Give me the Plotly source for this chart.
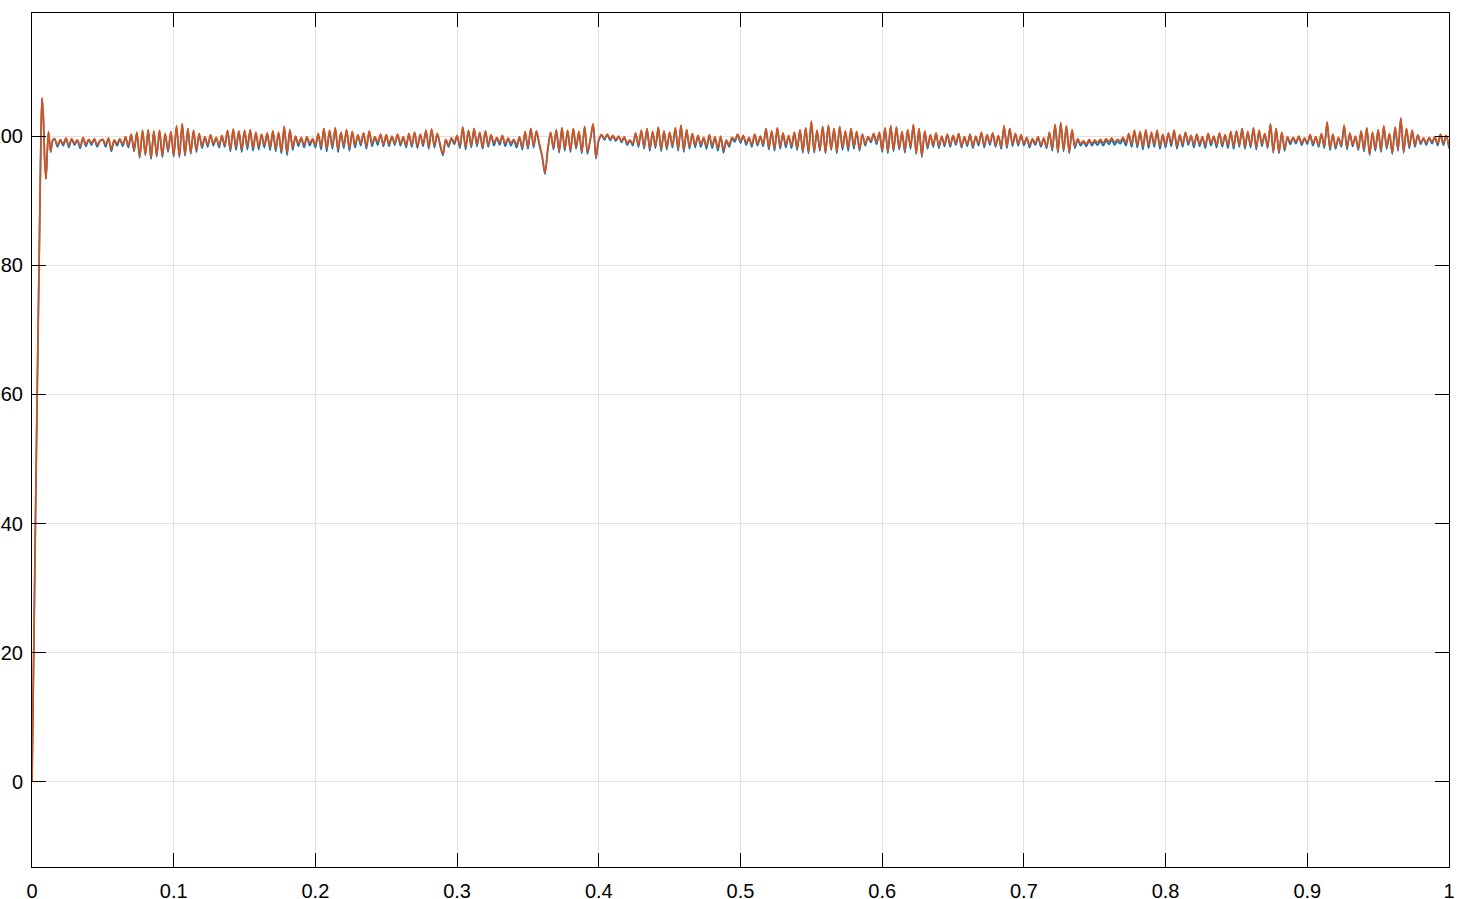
import numpy as np
import plotly.graph_objects as go

# start-up transient (fine time steps)
t_start = [0.0, 0.0018, 0.0035, 0.0053, 0.0064, 0.0071, 0.0080, 0.0090, 0.0099, 0.0116, 0.0132, 0.0146]
orange_start = [0.0, 30.0, 58.0, 85.0, 101.0, 105.9, 103.0, 96.0, 93.3, 100.7, 97.6, 99.4]
blue_start = [0.0, 29.5, 57.5, 84.5, 100.8, 105.8, 103.0, 96.2, 93.4, 100.6, 97.5, 99.2]

# steady part, sampled every 0.002 s starting at t = 0.016
t0_steady = 0.016
dt_steady = 0.002

orange_steady = [
    99.6, 98.6, 99.5, 98.8, 99.7, 98.5, 99.6, 98.9, 99.4, 98.4, 99.8, 98.7, 99.5, 98.9, 99.6, 98.6, 99.3,
    99.5, 98.6, 99.7, 97.9, 99.4, 98.8, 99.6, 98.7, 99.9, 98.5, 100.3, 97.8, 100.6, 96.8, 100.9, 97.2, 101.0, 96.6, 100.8, 97.0, 100.9, 96.9, 100.4, 97.8, 100.7,
    97.0, 101.6, 96.9, 101.9, 97.1, 101.2, 97.4, 100.9, 97.8, 100.4, 98.4, 99.9, 98.6, 100.2, 98.8, 99.8, 98.5, 100.1, 98.6, 100.9, 97.9, 101.1, 98.2, 100.8, 97.9,
    100.9, 98.4, 101.0, 98.1, 100.6, 98.3, 100.3, 98.6, 100.5, 98.2, 100.8, 98.0, 100.6, 97.7, 101.5, 97.4, 101.0, 98.2, 100.0, 98.8, 99.8, 98.6, 99.9, 98.9, 99.6,
    98.6, 100.4, 98.3, 101.2, 98.0, 100.9, 98.4, 101.3, 97.9, 100.6, 98.5, 101.0, 98.1, 100.7, 98.6, 100.2, 98.9, 100.5, 98.4, 100.8, 98.8, 99.9, 99.0, 100.3, 98.7,
    100.2, 98.7, 100.0, 98.9, 100.3, 98.8, 99.9, 98.5, 100.4, 98.6, 100.6, 98.4, 100.3, 98.7, 100.9, 98.3, 101.1, 98.5, 100.4, 98.8, 97.2, 99.5, 98.6, 99.7, 99.0,
    100.1, 98.4, 101.4, 98.2, 100.9, 98.5, 101.2, 98.7, 100.6, 98.3, 100.8, 98.6, 100.2, 98.9, 99.8, 99.0, 100.1, 98.8, 99.7, 98.9, 99.5, 98.6, 99.9, 98.2, 100.7,
    98.3, 101.2, 98.5, 100.8, 98.9, 97.0, 94.3, 98.0, 100.6, 98.2, 101.0, 97.7, 101.3, 98.0, 100.9, 97.8, 101.2, 98.3, 100.7, 97.6, 101.5, 97.5, 99.5, 101.9, 96.7,
    99.5, 100.2, 99.6, 100.3, 99.5, 100.1, 99.4, 100.0, 99.2, 99.9, 98.9, 99.4, 98.8, 100.5, 98.6, 100.9, 98.3, 101.2, 98.0, 100.7, 98.4, 101.4, 97.9, 100.8, 98.2,
    100.6, 98.5, 101.3, 98.0, 101.7, 97.8, 101.0, 98.3, 100.4, 98.6, 100.1, 98.7, 99.8, 98.4, 100.2, 98.5, 99.9, 98.1, 100.0, 97.8, 99.4, 98.6, 99.8, 99.4, 100.3,
    99.2, 100.1, 98.9, 99.8, 98.6, 100.3, 98.8, 100.0, 98.7, 101.2, 98.2, 100.8, 98.0, 101.3, 98.4, 100.5, 98.6, 100.1, 98.5, 100.6, 98.1, 101.0, 97.7, 101.3, 97.5,
    102.3, 97.6, 100.9, 97.9, 101.5, 97.5, 101.7, 98.0, 101.2, 97.6, 101.5, 98.2, 100.8, 98.1, 101.2, 98.4, 100.7, 98.0, 100.3, 98.8, 99.9, 99.3, 100.4, 99.0, 100.6,
    97.8, 101.3, 97.6, 101.6, 97.9, 101.4, 98.2, 100.7, 97.7, 101.0, 98.3, 101.8, 97.4, 101.2, 96.9, 100.8, 98.3, 100.2, 98.6, 100.5, 98.4, 100.0, 98.7, 100.3, 98.6,
    100.1, 98.9, 100.4, 98.5, 99.9, 98.7, 100.3, 98.4, 100.0, 98.8, 100.6, 98.5, 100.2, 98.9, 100.5, 98.6, 100.1, 98.3, 101.6, 98.4, 101.2, 98.7, 100.4, 98.8, 100.2,
    98.8, 99.8, 98.5, 99.6, 98.9, 99.9, 98.6, 99.7, 98.4, 100.6, 98.0, 101.8, 97.6, 102.1, 97.8, 101.6, 97.5, 101.0, 98.4, 99.6, 98.8, 99.3, 98.7, 99.5, 98.8,
    99.4, 99.0, 99.5, 98.9, 99.6, 99.1, 99.7, 99.0, 99.5, 99.2, 99.8, 98.9, 100.4, 98.7, 100.9, 98.6, 100.7, 98.3, 101.0, 98.5, 100.6, 98.7, 100.9, 98.4, 100.3,
    98.6, 100.5, 98.8, 100.9, 98.4, 100.2, 98.7, 100.6, 99.0, 100.1, 98.6, 100.3, 98.8, 99.9, 98.5, 100.4, 98.9, 100.0, 98.6, 100.5, 98.7, 100.2, 98.5, 100.7, 98.4,
    100.8, 98.6, 101.2, 98.3, 100.7, 98.5, 101.3, 98.2, 100.9, 98.7, 100.4, 98.4, 101.9, 97.6, 101.2, 97.5, 100.6, 98.0, 99.9, 99.0, 99.8, 99.1, 100.0, 98.9, 99.7,
    99.0, 100.2, 98.8, 99.9, 98.6, 100.4, 98.4, 102.2, 98.1, 100.3, 98.3, 99.8, 98.6, 101.7, 98.2, 100.5, 98.7, 100.0, 98.1, 100.8, 97.9, 101.3, 97.2, 100.6, 98.0,
    101.0, 97.8, 101.6, 98.3, 100.4, 97.4, 101.4, 98.0, 102.8, 97.6, 101.2, 98.4, 100.9, 98.6, 100.2, 99.0, 99.7, 98.9, 99.8, 99.1, 99.9, 98.8, 100.3, 98.9, 100.1,
    98.3,
]

blue_steady = [
    99.5, 98.3, 99.4, 98.5, 99.6, 98.2, 99.5, 98.6, 99.3, 98.1, 99.7, 98.4, 99.4, 98.6, 99.5, 98.3, 99.2,
    99.4, 98.3, 99.6, 97.6, 99.3, 98.5, 99.5, 98.4, 99.8, 98.2, 100.2, 97.6, 100.5, 96.6, 100.8, 97.0, 100.9, 96.4, 100.7, 96.8, 100.8, 96.7, 100.3, 97.5, 100.6,
    96.8, 101.5, 96.7, 101.8, 96.9, 101.1, 97.2, 100.8, 97.5, 100.3, 98.1, 99.8, 98.3, 100.1, 98.5, 99.7, 98.2, 100.0, 98.3, 100.8, 97.6, 101.0, 97.8, 100.7, 97.5,
    100.8, 97.9, 100.9, 97.7, 100.5, 97.9, 100.2, 98.2, 100.4, 97.8, 100.7, 97.6, 100.5, 97.3, 101.4, 97.0, 100.9, 97.8, 99.9, 98.4, 99.7, 98.2, 99.8, 98.5, 99.5,
    98.2, 100.3, 97.9, 101.1, 97.6, 100.8, 98.0, 101.2, 97.5, 100.5, 98.1, 100.9, 97.7, 100.6, 98.2, 100.1, 98.5, 100.4, 98.0, 100.7, 98.4, 99.8, 98.6, 100.2, 98.4,
    100.1, 98.4, 99.9, 98.6, 100.2, 98.5, 99.8, 98.2, 100.3, 98.3, 100.5, 98.1, 100.2, 98.4, 100.8, 98.0, 101.0, 98.2, 100.3, 98.5, 97.0, 99.4, 98.3, 99.6, 98.7,
    100.0, 98.1, 101.3, 97.9, 100.8, 98.2, 101.1, 98.4, 100.5, 98.0, 100.7, 98.3, 100.1, 98.5, 99.7, 98.6, 100.0, 98.4, 99.6, 98.5, 99.4, 98.2, 99.8, 97.9, 100.6,
    98.0, 101.1, 98.2, 100.7, 98.6, 96.8, 94.1, 97.8, 100.5, 97.9, 100.9, 97.4, 101.2, 97.7, 100.8, 97.5, 101.1, 98.0, 100.6, 97.3, 101.4, 97.2, 99.4, 101.8, 96.5,
    99.3, 100.1, 99.4, 100.2, 99.3, 100.0, 99.2, 99.9, 99.0, 99.8, 98.6, 99.3, 98.5, 100.4, 98.3, 100.8, 98.0, 101.1, 97.7, 100.6, 98.1, 101.3, 97.6, 100.7, 97.9,
    100.5, 98.2, 101.2, 97.7, 101.6, 97.5, 100.9, 98.0, 100.3, 98.2, 100.0, 98.3, 99.7, 98.0, 100.1, 98.1, 99.8, 97.7, 99.9, 97.4, 99.2, 98.3, 99.6, 99.1, 100.2,
    98.9, 100.0, 98.6, 99.7, 98.3, 100.2, 98.5, 99.9, 98.4, 101.1, 97.9, 100.7, 97.7, 101.2, 98.0, 100.4, 98.2, 100.0, 98.1, 100.5, 97.8, 100.9, 97.4, 101.2, 97.3,
    102.2, 97.4, 100.8, 97.7, 101.4, 97.3, 101.6, 97.8, 101.1, 97.3, 101.4, 97.8, 100.7, 97.7, 101.1, 98.0, 100.6, 97.7, 100.2, 98.5, 99.8, 99.0, 100.3, 98.7, 100.5,
    97.5, 101.2, 97.3, 101.5, 97.6, 101.3, 97.9, 100.6, 97.4, 100.9, 98.0, 101.7, 97.2, 101.1, 96.7, 100.7, 98.0, 100.1, 98.3, 100.4, 98.1, 99.9, 98.4, 100.2, 98.3,
    100.0, 98.6, 100.3, 98.2, 99.8, 98.4, 100.2, 98.1, 99.9, 98.5, 100.5, 98.2, 100.1, 98.6, 100.4, 98.3, 100.0, 98.0, 101.5, 98.1, 101.1, 98.4, 100.3, 98.5, 100.1,
    98.5, 99.7, 98.2, 99.5, 98.6, 99.8, 98.3, 99.6, 98.1, 100.5, 97.7, 101.7, 97.4, 102.0, 97.6, 101.5, 97.3, 100.9, 98.1, 99.4, 98.5, 99.1, 98.4, 99.3, 98.5,
    99.1, 98.6, 99.2, 98.5, 99.3, 98.7, 99.4, 98.6, 99.2, 98.8, 99.5, 98.5, 100.2, 98.3, 100.7, 98.2, 100.5, 97.9, 100.8, 98.1, 100.4, 98.3, 100.7, 98.0, 100.1,
    98.2, 100.4, 98.4, 100.8, 98.0, 100.1, 98.3, 100.5, 98.6, 100.0, 98.2, 100.2, 98.4, 99.8, 98.1, 100.3, 98.5, 99.9, 98.2, 100.4, 98.3, 100.1, 98.1, 100.6, 98.0,
    100.7, 98.3, 101.1, 98.0, 100.6, 98.2, 101.2, 97.9, 100.8, 98.4, 100.3, 98.1, 101.8, 97.4, 101.1, 97.3, 100.5, 97.7, 99.8, 98.7, 99.7, 98.8, 99.9, 98.6, 99.6,
    98.7, 100.1, 98.5, 99.8, 98.3, 100.3, 98.1, 102.1, 97.8, 100.2, 98.0, 99.7, 98.3, 101.6, 97.9, 100.4, 98.4, 99.9, 97.8, 100.7, 97.6, 101.2, 97.0, 100.5, 97.7,
    100.9, 97.5, 101.5, 98.0, 100.3, 97.2, 101.3, 97.7, 102.7, 97.4, 101.1, 98.1, 100.8, 98.3, 100.1, 98.7, 99.6, 98.6, 99.7, 98.8, 99.8, 98.5, 100.2, 98.6, 100.0,
    98.1,
]

x_ticks = [0, 0.1, 0.2, 0.3, 0.4, 0.5, 0.6, 0.7, 0.8, 0.9, 1]
x_labels = ["0", "0.1", "0.2", "0.3", "0.4", "0.5", "0.6", "0.7", "0.8", "0.9", "1"]
y_ticks = [0, 20, 40, 60, 80, 100]


def build_series(t_first, y_first, y_rest):
    t_rest = t0_steady + dt_steady * np.arange(len(y_rest))
    return np.concatenate([t_first, t_rest]), np.concatenate([y_first, y_rest])


tb, yb = build_series(t_start, blue_start, blue_steady)
to, yo = build_series(t_start, orange_start, orange_steady)

fig = go.Figure()
fig.add_trace(go.Scatter(x=tb, y=yb, mode="lines", name="ref",
                         line=dict(color="#0072BD", width=1.7, shape="spline", smoothing=0.8)))
fig.add_trace(go.Scatter(x=to, y=yo, mode="lines", name="out",
                         line=dict(color="#D95319", width=1.7, shape="spline", smoothing=0.8)))

axis_style = dict(
    showline=True, linecolor="black", linewidth=1, mirror="ticks",
    ticks="inside", ticklen=14, tickcolor="black", tickwidth=1,
    showgrid=True, gridcolor="#e1e1e1", gridwidth=1,
    zeroline=False, automargin=False,
    tickfont=dict(family="Liberation Sans, Arial, sans-serif", size=20, color="black"),
)

fig.update_xaxes(range=[0, 1], tickvals=x_ticks, ticktext=x_labels,
                 ticklabelstandoff=6, **axis_style)
fig.update_yaxes(range=[-13.16, 119.04], tickvals=y_ticks,
                 ticklabelstandoff=4, **axis_style)

fig.update_layout(
    template="none",
    width=1470, height=899,
    margin=dict(l=32, r=21, t=13, b=32),
    paper_bgcolor="white", plot_bgcolor="white",
    showlegend=False,
)

# drop the default body margin so the figure fills the window from the corner
fig.write_html("out.html", config={"displayModeBar": False},
               post_script="document.body.style.margin='0';document.body.style.overflow='hidden';")
